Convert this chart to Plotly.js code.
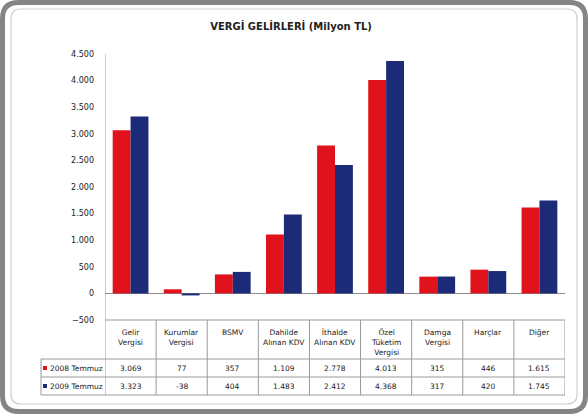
<!DOCTYPE html>
<html><head><meta charset="utf-8">
<script src="https://cdn.plot.ly/plotly-3.0.1.min.js"></script>
<style>html,body{margin:0;padding:0;background:#fff}#c{width:588px;height:414px}</style>
</head><body><div id="c"></div>
<script>
var categories = ["Gelir<br>Vergisi","Kurumlar<br>Vergisi","BSMV","Dahilde<br>Alınan KDV","İthalde<br>Alınan KDV","Özel<br>Tüketim<br>Vergisi","Damga<br>Vergisi","Harçlar","Diğer"];
var series2008 = [3069, 77, 357, 1109, 2778, 4013, 315, 446, 1615];
var series2009 = [3323, -38, 404, 1483, 2412, 4368, 317, 420, 1745];
var seriesNames = ["2008 Temmuz", "2009 Temmuz"];
var yTicks = [-500, 0, 500, 1000, 1500, 2000, 2500, 3000, 3500, 4000, 4500];

function fmt(v){
  var s = Math.abs(v).toString();
  var out = s.replace(/\B(?=(\d{3})+(?!\d))/g, ".");
  return (v < 0 ? "-" : "") + out;
}

var red = "#e0121c", blue = "#1b2b78";
var idx = categories.map(function(_, i){ return i; });
var FONT = "DejaVu Sans, Verdana, sans-serif";

var traces = [
  {type:"bar", x: idx, y: series2008, name: seriesNames[0], marker:{color: red, line:{width:0}}},
  {type:"bar", x: idx, y: series2009, name: seriesNames[1], marker:{color: blue, line:{width:0}}}
];

// plot area pixel geometry
var L = 105, R = 565, T = 54, B = 320;
var H = B - T, W = R - L;
function py(p){ return (B - p) / H; }   // pixel y -> paper y
function px(p){ return (p - L) / W; }   // pixel x -> paper x
var rowTop = 359, rowMid = 377, rowBot = 395, legL = 41;

function roundRect(x0, y0, x1, y1, r){
  var P = function(x, y){ return px(x) + "," + py(y); };
  return "M" + P(x0 + r, y0) + " L" + P(x1 - r, y0) + " Q" + P(x1, y0) + " " + P(x1, y0 + r) +
    " L" + P(x1, y1 - r) + " Q" + P(x1, y1) + " " + P(x1 - r, y1) +
    " L" + P(x0 + r, y1) + " Q" + P(x0, y1) + " " + P(x0, y1 - r) +
    " L" + P(x0, y0 + r) + " Q" + P(x0, y0) + " " + P(x0 + r, y0) + " Z";
}

var shapes = [];
var lineC = "#9a9a9a";
// outer frame
shapes.push({type:"path", xref:"paper", yref:"paper", path:roundRect(2.5, 2.5, 585.5, 411.5, 16), line:{color:"#858585", width:5}, layer:"below"});
shapes.push({type:"path", xref:"paper", yref:"paper", path:roundRect(11, 9, 577, 404, 10), line:{color:"#cfcfcf", width:1.2}, layer:"below"});
// vertical table lines at category boundaries
for (var i = 0; i <= categories.length; i++){
  shapes.push({type:"line", xref:"x", yref:"paper", x0:i-0.5, x1:i-0.5, y0:py(i===0?T:B), y1:py(rowBot), line:{color:lineC, width:1}});
}
// horizontal table lines
shapes.push({type:"line", xref:"paper", yref:"paper", x0:0, x1:1, y0:0, y1:0, line:{color:lineC, width:1}});
shapes.push({type:"line", xref:"paper", yref:"paper", x0:px(legL), x1:1, y0:py(rowTop), y1:py(rowTop), line:{color:lineC, width:1}});
shapes.push({type:"line", xref:"paper", yref:"paper", x0:px(legL), x1:1, y0:py(rowMid), y1:py(rowMid), line:{color:lineC, width:1}});
shapes.push({type:"line", xref:"paper", yref:"paper", x0:px(legL), x1:1, y0:py(rowBot), y1:py(rowBot), line:{color:lineC, width:1}});
shapes.push({type:"line", xref:"paper", yref:"paper", x0:px(legL), x1:px(legL), y0:py(rowTop), y1:py(rowBot), line:{color:lineC, width:1}});
// legend swatches
shapes.push({type:"rect", xref:"paper", yref:"paper", x0:px(43), x1:px(47), y0:py(370), y1:py(366), fillcolor:red, line:{width:0}});
shapes.push({type:"rect", xref:"paper", yref:"paper", x0:px(43), x1:px(47), y0:py(388), y1:py(384), fillcolor:blue, line:{width:0}});

var ann = [];
var f = {family: FONT, size: 7.5, color:"#222"};
categories.forEach(function(c, i){
  ann.push({xref:"x", yref:"paper", x:i, y:py(B+6), text:c, showarrow:false, yanchor:"top", font:f, align:"center"});
  ann.push({xref:"x", yref:"paper", x:i, y:py((rowTop+rowMid)/2), text:fmt(series2008[i]), showarrow:false, yanchor:"middle", font:f});
  ann.push({xref:"x", yref:"paper", x:i, y:py((rowMid+rowBot)/2), text:fmt(series2009[i]), showarrow:false, yanchor:"middle", font:f});
});
ann.push({xref:"paper", yref:"paper", x:px(48), y:py((rowTop+rowMid)/2), text:seriesNames[0], showarrow:false, xanchor:"left", yanchor:"middle", font:f});
ann.push({xref:"paper", yref:"paper", x:px(48), y:py((rowMid+rowBot)/2), text:seriesNames[1], showarrow:false, xanchor:"left", yanchor:"middle", font:f});

var layout = {
  width:588, height:414,
  margin:{l:L, r:588-R, t:T, b:414-B, pad:0},
  paper_bgcolor:"#ffffff", plot_bgcolor:"rgba(0,0,0,0)",
  separators:",.",
  title:{text:"<b>VERGİ GELİRLERİ (Milyon TL)</b>", font:{family:FONT, size:10, color:"#222"}, x:0.495, xanchor:"center", y:0.937, yanchor:"middle"},
  showlegend:false,
  barmode:"group", bargap:0.3, bargroupgap:0,
  xaxis:{range:[-0.5, categories.length-0.5], showticklabels:false, showgrid:false, zeroline:false, showline:false, ticks:""},
  yaxis:{range:[-500, 4500], tickvals:yTicks, tickformat:",d", showgrid:false, zeroline:true, zerolinecolor:"#8c8c8c", zerolinewidth:1,
         showline:false, ticks:"", ticklabelstandoff:10, tickfont:{family:FONT, size:8, color:"#222"}},
  shapes:shapes, annotations:ann
};
Plotly.newPlot("c", traces, layout, {staticPlot:true, displayModeBar:false});
</script></body></html>
